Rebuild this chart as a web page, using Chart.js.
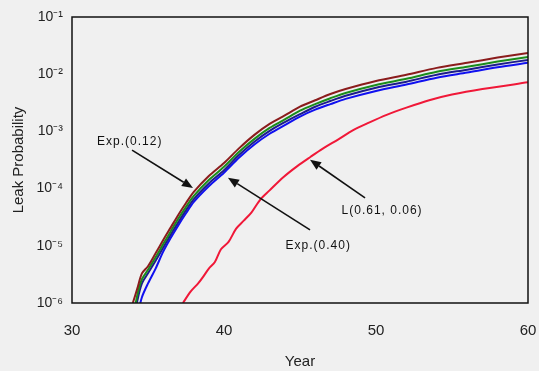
<!DOCTYPE html>
<html>
<head>
<meta charset="utf-8">
<script src="https://cdn.jsdelivr.net/npm/chart.js@4/dist/chart.umd.min.js"></script>
<style>
  html, body { margin: 0; padding: 0; background: #f0f0f0; }
  #wrap { width: 539px; height: 371px; }
</style>
</head>
<body>
<div id="wrap"><canvas id="c" width="539" height="371"></canvas></div>
<script>
// ---- data ----
const years = [34.0, 34.3, 34.6, 35.0, 35.5, 36.0, 36.5, 37.0, 37.5, 38.0, 39.0, 40.0, 41.0, 42.0, 43.0, 44.0, 45.0, 46.0, 47.0, 48.0, 50.0, 52.0, 54.0, 56.0, 58.0, 60.0];
const darkRed = [1.0e-6, 1.8e-6, 3.3e-6, 4.4e-6, 7.4e-6, 1.26e-5, 2.1e-5, 3.5e-5, 5.6e-5, 8.7e-5, 1.66e-4, 2.8e-4, 5.1e-4, 8.7e-4, 1.35e-3, 1.9e-3, 2.7e-3, 3.5e-3, 4.5e-3, 5.5e-3, 7.6e-3, 9.8e-3, 1.29e-2, 1.58e-2, 1.95e-2, 2.35e-2];
const green   = [5.0e-7, 1.4e-6, 2.6e-6, 3.8e-6, 6.3e-6, 1.07e-5, 1.8e-5, 3.0e-5, 4.8e-5, 7.4e-5, 1.41e-4, 2.4e-4, 4.4e-4, 7.4e-4, 1.15e-3, 1.62e-3, 2.3e-3, 3.0e-3, 3.8e-3, 4.7e-3, 6.5e-3, 8.3e-3, 1.1e-2, 1.35e-2, 1.66e-2, 2.0e-2];
const navy    = [4.0e-7, 1.1e-6, 2.2e-6, 3.3e-6, 5.5e-6, 9.3e-6, 1.58e-5, 2.6e-5, 4.2e-5, 6.5e-5, 1.23e-4, 2.1e-4, 3.9e-4, 6.6e-4, 1.02e-3, 1.45e-3, 2.0e-3, 2.7e-3, 3.4e-3, 4.2e-3, 5.8e-3, 7.4e-3, 9.8e-3, 1.2e-2, 1.48e-2, 1.78e-2];
const blue    = [3.0e-7, 6.0e-7, 1.26e-6, 2.2e-6, 4.0e-6, 7.9e-6, 1.38e-5, 2.3e-5, 3.7e-5, 5.8e-5, 1.1e-4, 1.9e-4, 3.5e-4, 5.9e-4, 9.1e-4, 1.29e-3, 1.82e-3, 2.4e-3, 3.0e-3, 3.7e-3, 5.1e-3, 6.6e-3, 8.7e-3, 1.07e-2, 1.32e-2, 1.58e-2];
const redYears = [37.3, 37.8, 38.3, 38.6, 39.0, 39.4, 39.8, 40.3, 40.8, 41.3, 41.8, 42.4, 43.0, 43.9, 44.8, 45.7, 46.5, 47.5, 48.5, 49.5, 50.7, 52.0, 53.5, 55.0, 57.0, 60.0];
const red     = [1.0e-6, 1.58e-6, 2.2e-6, 2.8e-6, 4.0e-6, 5.2e-6, 8.7e-6, 1.17e-5, 2.0e-5, 2.75e-5, 3.8e-5, 6.5e-5, 9.3e-5, 1.58e-4, 2.45e-4, 3.6e-4, 5.0e-4, 7.2e-4, 1.05e-3, 1.41e-3, 1.95e-3, 2.6e-3, 3.5e-3, 4.4e-3, 5.5e-3, 7.2e-3];

const xTicks = [30, 40, 50, 60];
const yTicks = [1e-6, 1e-5, 1e-4, 1e-3, 1e-2, 1e-1];
const yTickLabels = ['10\u207B\u2076', '10\u207B\u2075', '10\u207B\u2074', '10\u207B\u00B3', '10\u207B\u00B2', '10\u207B\u00B9'];

// annotations: label, text position (year, value), arrow tail, arrow tip
const annLabels = ['Exp.(0.12)', 'Exp.(0.40)', 'L(0.61, 0.06)'];
const annText   = [[33.8, 6.5e-4], [46.2, 1.02e-5], [50.4, 4.1e-5]];
const annTail   = [[33.95, 4.7e-4], [45.66, 1.9e-5], [49.28, 6.9e-5]];
const annTip    = [[37.96, 1.02e-4], [40.26, 1.55e-4], [45.66, 3.2e-4]];

const zip = (xs, ys) => xs.map((x, i) => ({ x: x, y: ys[i] }));

const boxPlugin = {
  id: 'box',
  afterDatasetsDraw(chart) {
    const { ctx, chartArea: a, scales } = chart;
    ctx.save();
    ctx.strokeStyle = '#111';
    ctx.lineWidth = 1.5;
    ctx.strokeRect(a.left, a.top, a.right - a.left, a.bottom - a.top);
    // annotations
    ctx.fillStyle = '#111';
    ctx.strokeStyle = '#111';
    ctx.font = '12px "Liberation Sans", Arial, sans-serif';
    try { ctx.letterSpacing = '1px'; } catch (e) {}
    ctx.textAlign = 'center';
    ctx.textBaseline = 'middle';
    for (let i = 0; i < annLabels.length; i++) {
      const tx = scales.x.getPixelForValue(annText[i][0]);
      const ty = scales.y.getPixelForValue(annText[i][1]);
      ctx.fillText(annLabels[i], tx, ty);
      const x0 = scales.x.getPixelForValue(annTail[i][0]);
      const y0 = scales.y.getPixelForValue(annTail[i][1]);
      const x1 = scales.x.getPixelForValue(annTip[i][0]);
      const y1 = scales.y.getPixelForValue(annTip[i][1]);
      const ang = Math.atan2(y1 - y0, x1 - x0);
      const hl = 11, hw = 4.5;
      const bx = x1 - hl * Math.cos(ang), by = y1 - hl * Math.sin(ang);
      ctx.lineWidth = 1.6;
      ctx.beginPath();
      ctx.moveTo(x0, y0);
      ctx.lineTo(bx, by);
      ctx.stroke();
      ctx.beginPath();
      ctx.moveTo(x1, y1);
      ctx.lineTo(bx + hw * Math.sin(ang), by - hw * Math.cos(ang));
      ctx.lineTo(bx - hw * Math.sin(ang), by + hw * Math.cos(ang));
      ctx.closePath();
      ctx.fill();
    }
    ctx.restore();
  }
};

const font = '"Liberation Sans", Arial, sans-serif';

new Chart(document.getElementById('c'), {
  type: 'line',
  data: {
    datasets: [
      { data: zip(years, darkRed), borderColor: '#8b1c1c', borderWidth: 2 },
      { data: zip(years, green), borderColor: '#1a8c1a', borderWidth: 2 },
      { data: zip(years, navy), borderColor: '#1c1c8c', borderWidth: 2 },
      { data: zip(years, blue), borderColor: '#1010f0', borderWidth: 2 },
      { data: zip(redYears, red), borderColor: '#f01838', borderWidth: 2 }
    ]
  },
  options: {
    responsive: false,
    animation: false,
    events: [],
    layout: { padding: { top: 17, right: 11, left: 10, bottom: 0 } },
    elements: { point: { radius: 0 }, line: { tension: 0.3, fill: false } },
    plugins: { legend: { display: false }, tooltip: { enabled: false } },
    scales: {
      x: {
        type: 'linear', min: 30, max: 60,
        afterBuildTicks: s => { s.ticks = xTicks.map(v => ({ value: v })); },
        afterFit: s => { s.height = 68; s.paddingRight = 0; s.paddingLeft = 0; },
        grid: { display: false, drawTicks: false },
        border: { display: false },
        ticks: { color: '#222', font: { family: font, size: 15 }, padding: 19 },
        title: { display: true, text: 'Year', color: '#222', font: { family: font, size: 15 }, padding: { top: 4, bottom: 0 } }
      },
      y: {
        type: 'logarithmic', min: 1e-6, max: 1e-1,
        afterBuildTicks: s => { s.ticks = yTicks.map(v => ({ value: v })); },
        afterFit: s => { s.width = 62; s.paddingTop = 0; s.paddingBottom = 0; },
        grid: { display: false, drawTicks: false },
        border: { display: false },
        ticks: {
          color: '#222', font: { family: font, size: 14 }, padding: 9,
          callback: v => { const i = yTicks.findIndex(t => Math.abs(t - v) / t < 1e-6); return i >= 0 ? yTickLabels[i] : ''; }
        },
        title: { display: true, text: 'Leak Probability', color: '#222', font: { family: font, size: 15 }, padding: { top: 0, bottom: 0 } }
      }
    }
  },
  plugins: [boxPlugin]
});
</script>
</body>
</html>
